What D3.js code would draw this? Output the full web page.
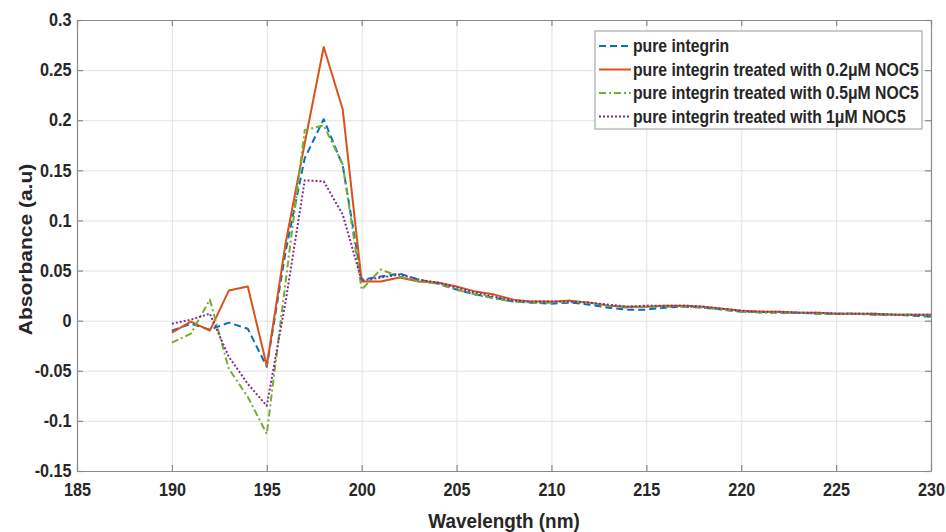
<!DOCTYPE html>
<html>
<head>
<meta charset="utf-8">
<script src="https://cdn.jsdelivr.net/npm/d3@7"></script>
<style>
  body { margin: 0; background: #fff; }
  svg text { font-family: "Liberation Sans", Arial, sans-serif; font-weight: bold; fill: #262626; }
  .grid line { stroke: #e3e3e3; stroke-width: 1; }
  .grid path { display: none; }
  .axis path, .axis line { stroke: #8a8a8a; stroke-width: 1.2; }
  .line { fill: none; stroke-width: 2; stroke-linejoin: round; }
</style>
</head>
<body>
<svg width="946" height="532"></svg>
<script>
// wavelength (nm)
var wavelength = [190, 191, 192, 193, 194, 195, 196, 197, 198, 199,
                  200, 201, 202, 203, 204, 205, 206, 207, 208, 209,
                  210, 211, 212, 213, 214, 215, 216, 217, 218, 219,
                  220, 221, 222, 223, 224, 225, 226, 227, 228, 229, 230];

var pureIntegrin = [-0.010, -0.003, -0.009, -0.002, -0.008, -0.046, 0.070, 0.162, 0.201, 0.155,
                    0.041, 0.044, 0.047, 0.041, 0.037, 0.031, 0.026, 0.023, 0.019, 0.018,
                    0.017, 0.018, 0.016, 0.013, 0.011, 0.011, 0.013, 0.014, 0.013, 0.011,
                    0.009, 0.009, 0.008, 0.008, 0.007, 0.007, 0.007, 0.006, 0.006, 0.005, 0.004];

var noc02 = [-0.012, -0.001, -0.010, 0.030, 0.034, -0.045, 0.078, 0.177, 0.273, 0.211,
             0.039, 0.039, 0.043, 0.039, 0.038, 0.034, 0.029, 0.026, 0.021, 0.019,
             0.019, 0.020, 0.018, 0.015, 0.014, 0.014, 0.015, 0.015, 0.014, 0.012,
             0.010, 0.009, 0.009, 0.008, 0.008, 0.007, 0.007, 0.007, 0.006, 0.006, 0.006];

var noc05 = [-0.022, -0.013, 0.021, -0.048, -0.076, -0.113, 0.040, 0.190, 0.195, 0.156,
             0.031, 0.051, 0.044, 0.039, 0.037, 0.031, 0.026, 0.022, 0.019, 0.018,
             0.018, 0.019, 0.018, 0.015, 0.013, 0.014, 0.014, 0.014, 0.013, 0.011,
             0.009, 0.008, 0.008, 0.008, 0.007, 0.007, 0.007, 0.006, 0.006, 0.006, 0.005];

var noc1 = [-0.003, 0.001, 0.007, -0.036, -0.063, -0.085, 0.020, 0.140, 0.139, 0.106,
            0.040, 0.043, 0.046, 0.041, 0.038, 0.033, 0.028, 0.024, 0.020, 0.019,
            0.019, 0.019, 0.018, 0.016, 0.014, 0.015, 0.015, 0.015, 0.014, 0.012,
            0.010, 0.009, 0.009, 0.008, 0.008, 0.007, 0.007, 0.007, 0.006, 0.006, 0.006];

var seriesNames = ["pure integrin",
                   "pure integrin treated with 0.2\u03bcM NOC5",
                   "pure integrin treated with 0.5\u03bcM NOC5",
                   "pure integrin treated with 1\u03bcM NOC5"];

var xTicks = [185, 190, 195, 200, 205, 210, 215, 220, 225, 230];
var yTicks = [-0.15, -0.1, -0.05, 0, 0.05, 0.1, 0.15, 0.2, 0.25, 0.3];

var styles = [
  { color: "#0072BD", dash: "7,4" },
  { color: "#D95319", dash: null },
  { color: "#77AC30", dash: "7,3,2,3" },
  { color: "#7E2F8E", dash: "2,2" }
];

var squeeze = "scale(0.9,1)";

var svg = d3.select("svg"),
    margin = {top: 20, right: 15, bottom: 61, left: 77},
    width = +svg.attr("width") - margin.left - margin.right,
    height = +svg.attr("height") - margin.top - margin.bottom;

var x = d3.scaleLinear().domain([185, 230]).range([0, width]);
var y = d3.scaleLinear().domain([-0.15, 0.3]).range([height, 0]);

var g = svg.append("g")
    .attr("transform", "translate(" + margin.left + "," + margin.top + ")");

// grid
g.append("g")
    .attr("class", "grid")
    .attr("transform", "translate(0," + height + ")")
    .call(d3.axisBottom(x).tickValues(xTicks).tickSize(-height).tickFormat(""));
g.append("g")
    .attr("class", "grid")
    .call(d3.axisLeft(y).tickValues(yTicks).tickSize(-width).tickFormat(""));

// axes (box with inward ticks)
var fmt = function(d) { return String(+d.toFixed(2)); }; // plain hyphen, like matlab

var xAxis = g.append("g")
    .attr("class", "axis")
    .attr("transform", "translate(0," + height + ")")
    .call(d3.axisBottom(x).tickValues(xTicks).tickSizeInner(-6).tickSizeOuter(0).tickPadding(12));
xAxis.selectAll("text").style("font-size", "18px").attr("transform", squeeze);

var yAxis = g.append("g")
    .attr("class", "axis")
    .call(d3.axisLeft(y).tickValues(yTicks).tickSizeInner(-6).tickSizeOuter(0).tickPadding(6).tickFormat(fmt));
yAxis.selectAll("text").style("font-size", "18px").attr("transform", squeeze);

g.append("g")
    .attr("class", "axis")
    .call(d3.axisTop(x).tickValues(xTicks).tickSizeInner(-6).tickSizeOuter(0).tickFormat(""));
g.append("g")
    .attr("class", "axis")
    .attr("transform", "translate(" + width + ",0)")
    .call(d3.axisRight(y).tickValues(yTicks).tickSizeInner(-6).tickSizeOuter(0).tickFormat(""));

// axis titles
svg.append("text")
    .attr("transform", "translate(" + (margin.left + width / 2) + ",528) " + squeeze)
    .attr("text-anchor", "middle")
    .style("font-size", "21px")
    .text("Wavelength (nm)");

svg.append("text")
    .attr("transform", "translate(25," + (margin.top + height / 2 + 4) + ") " + squeeze + " rotate(-90)")
    .attr("text-anchor", "middle")
    .attr("dy", "0.35em")
    .style("font-size", "21px")
    .text("Absorbance (a.u)");

// lines
var allSeries = [pureIntegrin, noc02, noc05, noc1];

var line = d3.line()
    .x(function(d, i) { return x(wavelength[i]); })
    .y(function(d) { return y(d); });

allSeries.forEach(function(s, i) {
  g.append("path")
      .datum(s)
      .attr("class", "line")
      .attr("stroke", styles[i].color)
      .attr("stroke-dasharray", styles[i].dash)
      .attr("d", line);
});

// legend
var legend = svg.append("g").attr("transform", "translate(595,31)");
legend.append("rect")
    .attr("width", 327)
    .attr("height", 98)
    .attr("fill", "#fff")
    .attr("stroke", "#9a9a9a")
    .attr("stroke-width", 1);

seriesNames.forEach(function(name, i) {
  var row = legend.append("g").attr("transform", "translate(0," + (15 + i * 23.5) + ")");
  row.append("line")
      .attr("x1", 4).attr("x2", 36)
      .attr("stroke", styles[i].color)
      .attr("stroke-width", 2)
      .attr("stroke-dasharray", styles[i].dash);
  row.append("text")
      .attr("transform", "translate(38,0) " + squeeze)
      .attr("dy", "0.35em")
      .style("font-size", "17.5px")
      .text(name);
});
</script>
</body>
</html>
